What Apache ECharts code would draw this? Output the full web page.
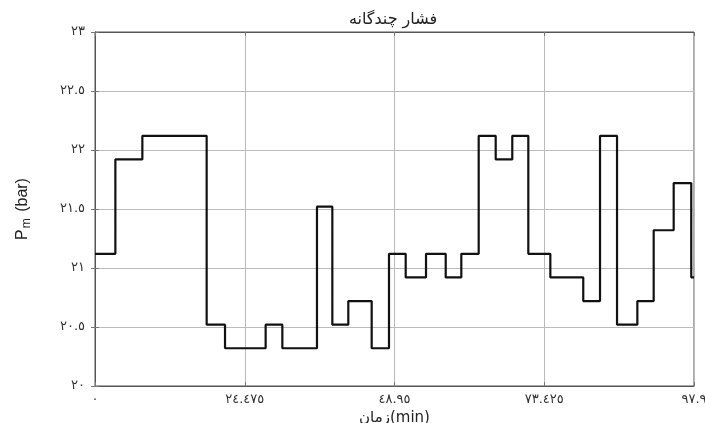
<!DOCTYPE html>
<html>
<head>
<meta charset="utf-8">
<script src="https://cdn.jsdelivr.net/npm/echarts@6/dist/echarts.min.js"></script>
<style>html,body{margin:0;padding:0;background:#fff}#c{width:705px;height:423px}</style>
</head>
<body>
<div id="c"></div>
<script>
var titleText = 'فشار چندگانه';
var xName = 'زمان(min)';
var times = [0, 3.33, 7.74, 18.25, 21.25, 27.89, 30.62, 36.28, 38.79, 41.4, 45.22, 48.05, 50.78, 54.1, 57.32, 59.87, 62.71, 65.49, 68.2, 70.82, 74.42, 79.8, 82.54, 85.32, 88.64, 91.31, 94.58, 97.45, 97.9];
var values = [21.12, 21.92, 22.12, 20.52, 20.32, 20.52, 20.32, 21.52, 20.52, 20.72, 20.32, 21.12, 20.92, 21.12, 20.92, 21.12, 22.12, 21.92, 22.12, 21.12, 20.92, 20.72, 22.12, 20.52, 20.72, 21.32, 21.72, 20.92, 20.92];
var xTickLabels = ['٠', '٢٤.٤٧٥', '٤٨.٩٥', '٧٣.٤٢٥', '٩٧.٩'];
var yTickLabels = ['٢٠', '٢٠.٥', '٢١', '٢١.٥', '٢٢', '٢٢.٥', '٢٣'];
var xMin = 0, xMax = 97.9, xStep = 24.475;
var yMin = 20, yMax = 23, yStep = 0.5;

var data = times.map(function (t, i) { return [t, values[i]]; });
var font = 'DejaVu Sans';
var chart = echarts.init(document.getElementById('c'), null, {renderer: 'canvas'});
var tickStyle = {show: true, inside: true, length: 4, lineStyle: {color: '#777'}};
chart.setOption({
  animation: false,
  backgroundColor: '#fff',
  title: {
    text: titleText, left: 388, top: 7, textAlign: 'center',
    textStyle: {fontFamily: font, fontSize: 16, fontWeight: 'normal', color: '#222'}
  },
  grid: {left: 95, right: 11, top: 32, bottom: 37, show: true, borderColor: '#555', borderWidth: 1,
         containLabel: false, outerBoundsMode: 'none'},
  xAxis: [{
    type: 'value', min: xMin, max: xMax, interval: xStep,
    name: xName, nameLocation: 'middle', nameGap: 17,
    nameTextStyle: {fontFamily: font, fontSize: 15, color: '#222'},
    axisLine: {show: true, lineStyle: {color: '#555', width: 1}},
    axisTick: tickStyle,
    splitLine: {show: true, lineStyle: {color: '#bbb', width: 1}},
    axisLabel: {
      margin: 7, fontFamily: font, fontSize: 13, color: '#333',
      formatter: function (v) { return xTickLabels[Math.round((v - xMin) / xStep)]; }
    }
  }, {
    type: 'value', position: 'top', min: xMin, max: xMax, interval: xStep,
    axisLine: {show: true, lineStyle: {color: '#555', width: 1}},
    axisTick: tickStyle, axisLabel: {show: false}, splitLine: {show: false}
  }],
  yAxis: [{
    type: 'value', min: yMin, max: yMax, interval: yStep,
    name: '{p|P}{s|m}{p| (bar)}', nameLocation: 'middle', nameGap: 62, nameRotate: 90,
    nameTextStyle: {
      fontFamily: font, color: '#222',
      rich: {
        p: {fontFamily: 'Liberation Sans', fontSize: 16, color: '#222'},
        s: {fontFamily: 'Liberation Sans', fontSize: 12, color: '#222', verticalAlign: 'bottom', padding: [8, 2, 0, 1]}
      }
    },
    axisLine: {show: true, lineStyle: {color: '#555', width: 1}},
    axisTick: tickStyle,
    splitLine: {show: true, lineStyle: {color: '#bbb', width: 1}},
    axisLabel: {
      margin: 10, fontFamily: font, fontSize: 13, color: '#333',
      formatter: function (v) { return yTickLabels[Math.round((v - yMin) / yStep)]; }
    }
  }, {
    type: 'value', position: 'right', min: yMin, max: yMax, interval: yStep,
    axisLine: {show: true, lineStyle: {color: '#555', width: 1}},
    axisTick: tickStyle, axisLabel: {show: false}, splitLine: {show: false}
  }],
  series: [{
    type: 'line', step: 'end', data: data, showSymbol: false, symbol: 'none',
    xAxisIndex: 0, yAxisIndex: 0,
    lineStyle: {color: '#111', width: 2.2}
  }]
});
</script>
</body>
</html>
